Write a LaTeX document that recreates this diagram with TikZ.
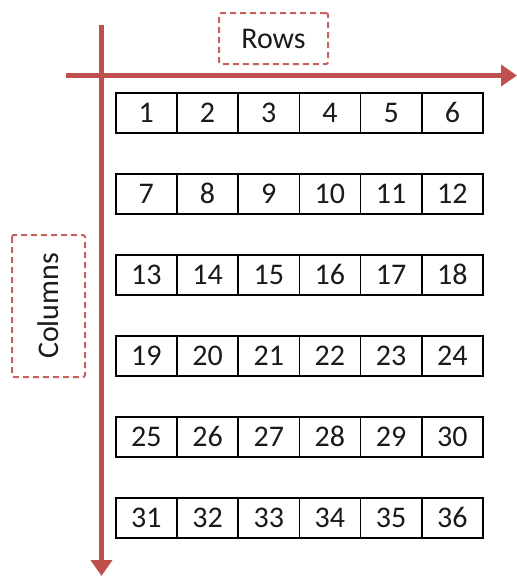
\documentclass[tikz,border=0pt]{standalone}
\usepackage{fontspec}
\setmainfont{Carlito}
\usetikzlibrary{arrows.meta}
\definecolor{axred}{HTML}{C0504D}
\definecolor{txt}{HTML}{1A1A1A}
\begin{document}
\begin{tikzpicture}[x=1pt,y=-1pt,
  cell/.style={draw=black, line width=1.5pt, minimum width=61.2pt, minimum height=40pt,
    inner sep=0pt, anchor=north west, text=txt, font=\fontsize{30}{32}\selectfont},
  lbl/.style={draw=axred!90, dash pattern=on 6pt off 4pt, line width=2pt,
    rounded corners=2pt, inner sep=0pt, text=txt, font=\fontsize{30}{32}\selectfont},
  axis/.style={draw=axred, line width=5pt, -{Triangle[length=16pt,width=21pt]}}]
\useasboundingbox (0,0) rectangle (517,576);
% axes
\coordinate (hs) at (66,75.5);
\coordinate (he) at (517,75.5);
\coordinate (vs) at (101.5,25);
\coordinate (ve) at (101.5,576);
\draw[axis] (hs) -- (he);
\draw[axis] (vs) -- (ve);
% labels
\node[lbl, minimum width=109pt, minimum height=51pt] (rows) at (273.5,38.5) {Rows};
\node[lbl, rotate=90, minimum width=142pt, minimum height=73pt] (cols) at (48.5,306) {Columns};
% cells
\foreach \r in {0,...,5}{
  \foreach \c in {0,...,5}{
    \pgfmathtruncatemacro{\n}{6*\r+\c+1}
    \node[cell] (c\n) at ({115+61.2*\c},{92+81*\r}) {\n};
  }
}
\end{tikzpicture}
\end{document}
